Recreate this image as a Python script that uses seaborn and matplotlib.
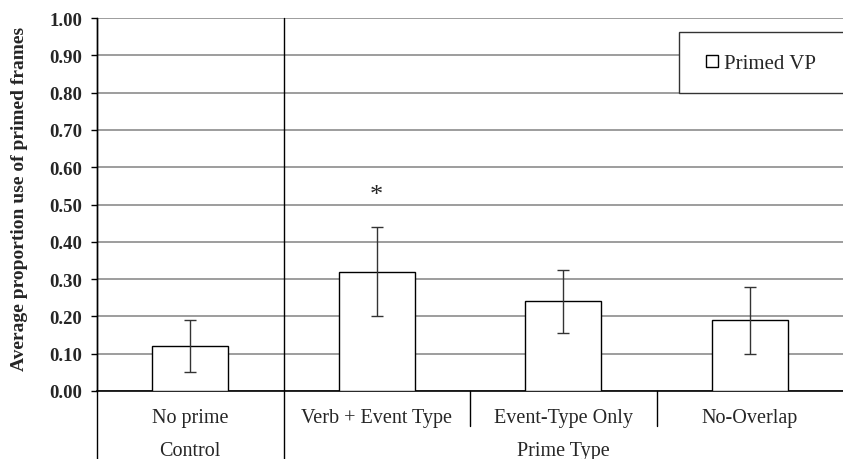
import matplotlib
matplotlib.use("Agg")
import matplotlib.pyplot as plt
import matplotlib.patches as mpatches
import matplotlib.transforms as mtrans
import seaborn as sns
import pandas as pd

categories = ["No prime", "Verb + Event Type", "Event-Type Only", "No-Overlap"]
groups = ["Control", "Prime Type"]
means = [0.12, 0.32, 0.24, 0.19]
errors = [0.07, 0.12, 0.085, 0.09]
yticks = [0.0, 0.1, 0.2, 0.3, 0.4, 0.5, 0.6, 0.7, 0.8, 0.9, 1.0]
series_name = "Primed VP"
star_y = 0.525

sns.set_theme(style="white")
plt.rcParams["font.family"] = ["Liberation Serif", "DejaVu Serif"]

df = pd.DataFrame({"cat": categories, "val": means})

fig = plt.figure(figsize=(8.43, 4.6), dpi=100)
ax = fig.add_axes([97 / 843, 68 / 460, 746 / 843, 373 / 460])

sns.barplot(data=df, x="cat", y="val", ax=ax, color="white", edgecolor="black",
            linewidth=1.0, width=0.41, errorbar=None, zorder=3)
ax.errorbar(range(len(categories)), means, yerr=errors, fmt="none",
            ecolor="#333333", elinewidth=1.0, capsize=4, capthick=1.0, zorder=4)
ax.text(1, star_y, "*", ha="center", va="center", fontsize=19, zorder=5)

ax.set_ylim(0, 1.0)
ax.set_xlim(-0.5, 3.5)
ax.set_yticks(yticks)
ax.set_yticklabels([f"{v:.2f}" for v in yticks], fontweight="bold", fontsize=13.5)
ax.yaxis.grid(True, color="#8c8c8c", linewidth=1.2, zorder=0)
ax.set_axisbelow(True)
ax.tick_params(axis="y", left=True, length=4.5, width=1, color="black", pad=6)
ax.tick_params(axis="x", bottom=False, length=0, pad=12, labelsize=14.5)
ax.set_xlabel("")
ax.set_ylabel("Average proportion use of primed frames", fontsize=14,
              fontweight="bold")
ax.yaxis.set_label_coords(-0.0925, 0.517)

for s in ["top", "right"]:
    ax.spines[s].set_visible(False)
ax.spines["left"].set_color("black")
ax.spines["bottom"].set_color("black")
ax.spines["left"].set_linewidth(1.0)
ax.spines["bottom"].set_linewidth(1.2)

trans = mtrans.blended_transform_factory(ax.transData, ax.transAxes)
# long separators
for xv in [-0.5, 0.5]:
    ax.plot([xv, xv], [-0.19, 1.0], color="black", lw=1.0, transform=trans,
            clip_on=False, zorder=6)
for xv in [1.5, 2.5]:
    ax.plot([xv, xv], [0, -0.095], color="black", lw=1.0, transform=trans,
            clip_on=False, zorder=6)

ax.text(0, -0.16, groups[0], transform=trans, ha="center", va="center", fontsize=14.5)
ax.text(2, -0.16, groups[1], transform=trans, ha="center", va="center", fontsize=14.5)

# legend box
rect = mpatches.Rectangle((0.78, 0.80), 0.3, 0.162, transform=ax.transAxes,
                          facecolor="white", edgecolor="#333333", lw=1.0,
                          clip_on=False, zorder=7)
ax.add_patch(rect)
handle = mpatches.Patch(facecolor="white", edgecolor="black", label=series_name)
leg = ax.legend(handles=[handle], loc="center", bbox_to_anchor=(0.89, 0.877),
                frameon=False, fontsize=15, handlelength=0.55, handleheight=0.55,
                handletextpad=0.3)
leg.set_zorder(8)

fig.savefig("out.png", dpi=100)
